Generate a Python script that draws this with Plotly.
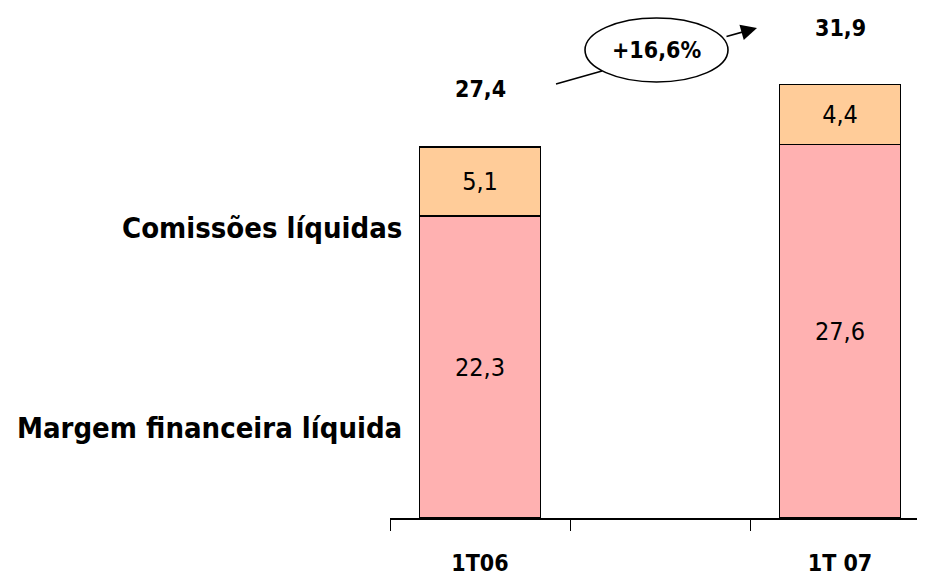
import plotly.graph_objects as go

categories = ["1T06", "1T 07"]
x_pos = [0, 2]
margem = [22.3, 27.6]
comissoes = [5.1, 4.4]
totals = [27.4, 31.9]
series_names = ["Margem financeira líquida", "Comissões líquidas"]
growth_label = "+16,6%"

FONT = "DejaVu Sans Condensed"
PINK = "#FFB1B1"
ORANGE = "#FFCC99"

# page is offset by the default 8px body margin
OFF = 8
W, H = 925 - OFF, 579 - OFF
PLOT_LEFT, PLOT_BOTTOM = 390, 518          # page pixels
L = PLOT_LEFT - OFF
B = H - (PLOT_BOTTOM - OFF)
PLOT_H = H - B
PLOT_W = W - L
PX_PER_UNIT = 13.54


def fmt(v):
    return f"{v:.1f}".replace(".", ",")


def px(xp):
    return (xp - PLOT_LEFT) / PLOT_W


def py(yp):
    return (PLOT_BOTTOM - yp) / PLOT_H


fig = go.Figure()
fig.add_trace(go.Bar(
    x=x_pos, y=margem, width=0.67, name=series_names[0],
    marker=dict(color=PINK, line=dict(color="black", width=1.2)),
    text=[fmt(v) for v in margem], textposition="inside", insidetextanchor="middle",
    textangle=0, textfont=dict(family=FONT, size=25, color="black"),
))
fig.add_trace(go.Bar(
    x=x_pos, y=comissoes, width=0.67, name=series_names[1],
    marker=dict(color=ORANGE, line=dict(color="black", width=1.2)),
    text=[fmt(v) for v in comissoes], textposition="inside", insidetextanchor="middle",
    textangle=0, textfont=dict(family=FONT, size=25, color="black"),
))

annotations = []
for xv, t in zip(x_pos, totals):
    annotations.append(dict(x=xv, y=t, xref="x", yref="y", text=f"<b>{fmt(t)}</b>",
                            showarrow=False, yshift=58, xanchor="center", yanchor="middle",
                            font=dict(family=FONT, size=23, color="black")))

# series labels on the left
annotations.append(dict(x=0, y=6.65, xref="paper", yref="y", xanchor="right",
                        yanchor="middle", xshift=14, text=f"<b>{series_names[0]}</b>",
                        showarrow=False, font=dict(family=FONT, size=29, color="black")))
annotations.append(dict(x=0, y=21.4, xref="paper", yref="y", xanchor="right",
                        yanchor="middle", xshift=14, text=f"<b>{series_names[1]}</b>",
                        showarrow=False, font=dict(family=FONT, size=29, color="black")))

# growth bubble
annotations.append(dict(x=px(656), y=py(50), xref="paper", yref="paper",
                        xanchor="center", yanchor="middle",
                        text=f"<b>{growth_label}</b>", showarrow=False,
                        font=dict(family=FONT, size=23, color="black")))
annotations.append(dict(x=px(757), y=py(28), xref="paper", yref="paper", text="",
                        showarrow=True, ax=-32, ay=9, arrowhead=2, arrowsize=2,
                        arrowwidth=1.6, arrowcolor="black", standoff=0))

shapes = [
    dict(type="line", xref="paper", yref="paper", x0=px(556), y0=py(84), x1=px(602), y1=py(71),
         line=dict(color="black", width=1.6)),
    dict(type="circle", xref="paper", yref="paper", x0=px(585), x1=px(728), y0=py(82), y1=py(18),
         line=dict(color="black", width=1.6), fillcolor="white"),
]

fig.update_layout(
    width=W, height=H,
    margin=dict(l=L, r=0, t=0, b=B, pad=0),
    barmode="stack",
    showlegend=False,
    plot_bgcolor="white", paper_bgcolor="white",
    annotations=annotations,
    shapes=shapes,
    xaxis=dict(range=[-0.5, -0.5 + PLOT_W / 180], tickvals=x_pos,
               ticktext=[f"<b>{c}</b>" for c in categories],
               showline=True, linecolor="black", linewidth=1.5, ticks="",
               showgrid=False, zeroline=False, fixedrange=True, automargin=False,
               tickfont=dict(family=FONT, size=23, color="black"),
               ticklabelstandoff=24,
               minor=dict(tick0=0.5, dtick=1, ticks="outside", ticklen=11,
                          tickcolor="black", tickwidth=1.2, showgrid=False)),
    yaxis=dict(range=[0, PLOT_H / PX_PER_UNIT], visible=False, fixedrange=True,
               automargin=False),
)

fig.write_html("out.html")
